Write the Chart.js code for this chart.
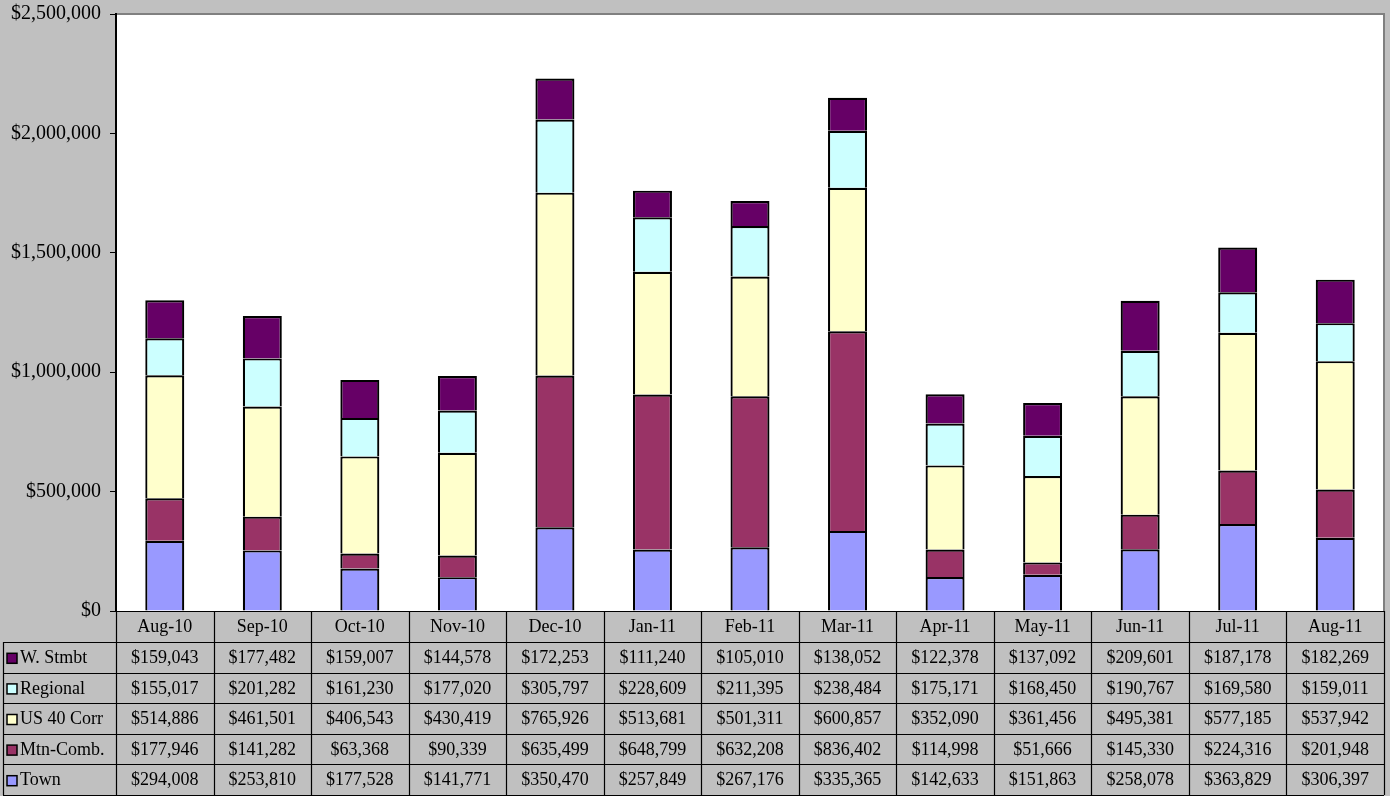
<!DOCTYPE html>
<html>
<head>
<meta charset="utf-8">
<script src="https://cdn.jsdelivr.net/npm/chart.js@4/dist/chart.umd.min.js"></script>
<style>
  html, body { margin: 0; padding: 0; background: #c0c0c0; }
  #wrap { width: 1390px; height: 796px; position: relative; }
</style>
</head>
<body>
<div id="wrap"><canvas id="chart"></canvas></div>
<script>
// Data
const months = ['Aug-10', 'Sep-10', 'Oct-10', 'Nov-10', 'Dec-10', 'Jan-11', 'Feb-11',
                'Mar-11', 'Apr-11', 'May-11', 'Jun-11', 'Jul-11', 'Aug-11'];
const town     = [294008, 253810, 177528, 141771, 350470, 257849, 267176, 335365, 142633, 151863, 258078, 363829, 306397];
const mtnComb  = [177946, 141282, 63368, 90339, 635499, 648799, 632208, 836402, 114998, 51666, 145330, 224316, 201948];
const us40Corr = [514886, 461501, 406543, 430419, 765926, 513681, 501311, 600857, 352090, 361456, 495381, 577185, 537942];
const regional = [155017, 201282, 161230, 177020, 305797, 228609, 211395, 238484, 175171, 168450, 190767, 169580, 159011];
const wStmbt   = [159043, 177482, 159007, 144578, 172253, 111240, 105010, 138052, 122378, 137092, 209601, 187178, 182269];
const yTicks   = [0, 500000, 1000000, 1500000, 2000000, 2500000];

const FONT = "'Liberation Serif', 'Times New Roman', serif";

function money(v) {
    return '$' + v.toLocaleString('en-US');
}

// series in stacking order (bottom to top)
const series = [
    { label: 'Town',       data: town,     color: '#9999ff' },
    { label: 'Mtn-Comb.',  data: mtnComb,  color: '#993366' },
    { label: 'US 40 Corr', data: us40Corr, color: '#ffffcc' },
    { label: 'Regional',   data: regional, color: '#ccffff' },
    { label: 'W. Stmbt',   data: wStmbt,   color: '#660066' }
];

// Plot background + frame
const plotFrame = {
    id: 'plotFrame',
    beforeDraw(chart) {
        const { ctx, chartArea: a } = chart;
        ctx.save();
        ctx.fillStyle = '#ffffff';
        ctx.fillRect(a.left, a.top, a.right - a.left, a.bottom - a.top);
        ctx.strokeStyle = '#808080';
        ctx.lineWidth = 2;
        ctx.beginPath();
        ctx.moveTo(a.left, a.top);
        ctx.lineTo(a.right, a.top);
        ctx.lineTo(a.right, a.bottom);
        ctx.stroke();
        ctx.restore();
    }
};

// Data table under the plot, columns follow the x scale
const dataTable = {
    id: 'dataTable',
    afterDraw(chart) {
        const { ctx, chartArea: a } = chart;
        const xs = chart.scales.x;
        const colW = (a.right - a.left) / months.length;
        const headH = 31;
        const rowH = 30.6;
        const tableLeft = 3;
        const rows = series.slice().reverse();
        const bottom = a.bottom + headH + rowH * rows.length;

        ctx.save();
        ctx.strokeStyle = '#000000';
        ctx.lineWidth = 1.2;

        // horizontal lines
        ctx.beginPath();
        ctx.moveTo(a.left, a.bottom + 0.5);
        ctx.lineTo(a.right, a.bottom + 0.5);
        for (let r = 0; r <= rows.length; r++) {
            const y = Math.round(a.bottom + headH + r * rowH) + 0.5;
            ctx.moveTo(tableLeft, y);
            ctx.lineTo(a.right, y);
        }
        // vertical lines
        ctx.moveTo(tableLeft + 0.5, a.bottom + headH);
        ctx.lineTo(tableLeft + 0.5, bottom);
        for (let i = 0; i <= months.length; i++) {
            const x = Math.round(a.left + i * colW) + 0.5;
            ctx.moveTo(x, a.bottom);
            ctx.lineTo(x, bottom);
        }
        ctx.stroke();

        ctx.fillStyle = '#000000';
        ctx.font = '18px ' + FONT;
        ctx.textAlign = 'center';
        ctx.textBaseline = 'middle';

        // header
        months.forEach((m, i) => {
            ctx.fillText(m, xs.getPixelForValue(i), a.bottom + headH / 2 + 1);
        });

        // rows
        rows.forEach((s, r) => {
            const cy = a.bottom + headH + r * rowH + rowH / 2 + 1;
            // legend key
            ctx.fillStyle = s.color;
            ctx.fillRect(7, cy - 5, 10, 10);
            ctx.strokeStyle = '#000000';
            ctx.lineWidth = 1.5;
            ctx.strokeRect(7, cy - 5, 10, 10);
            ctx.fillStyle = '#000000';
            ctx.textAlign = 'left';
            ctx.fillText(s.label, 20, cy);
            ctx.textAlign = 'center';
            s.data.forEach((v, i) => {
                ctx.fillText(money(v), xs.getPixelForValue(i), cy);
            });
        });
        ctx.restore();
    }
};

new Chart(document.getElementById('chart'), {
    type: 'bar',
    data: {
        labels: months,
        datasets: series.map(s => ({
            label: s.label,
            data: s.data,
            backgroundColor: s.color,
            borderColor: '#000000',
            borderWidth: 2.2,
            categoryPercentage: 1,
            barPercentage: 0.4
        }))
    },
    options: {
        responsive: true,
        maintainAspectRatio: false,
        animation: false,
        layout: {
            padding: { top: 14, right: 6, bottom: 185, left: 0 }
        },
        plugins: {
            legend: { display: false },
            tooltip: { enabled: false }
        },
        scales: {
            x: {
                stacked: true,
                display: false
            },
            y: {
                stacked: true,
                min: 0,
                max: 2500000,
                afterBuildTicks(scale) {
                    scale.ticks = yTicks.map(v => ({ value: v }));
                },
                afterFit(scale) {
                    scale.width = 116;
                    scale.paddingTop = 0;
                    scale.paddingBottom = 0;
                },
                border: { display: true, color: '#000000', width: 2 },
                grid: {
                    drawOnChartArea: false,
                    drawTicks: true,
                    tickLength: 6,
                    color: '#000000'
                },
                ticks: {
                    color: '#000000',
                    padding: 9,
                    font: { family: FONT, size: 20 },
                    callback: v => money(v)
                }
            }
        }
    },
    plugins: [plotFrame, dataTable]
});
</script>
</body>
</html>
